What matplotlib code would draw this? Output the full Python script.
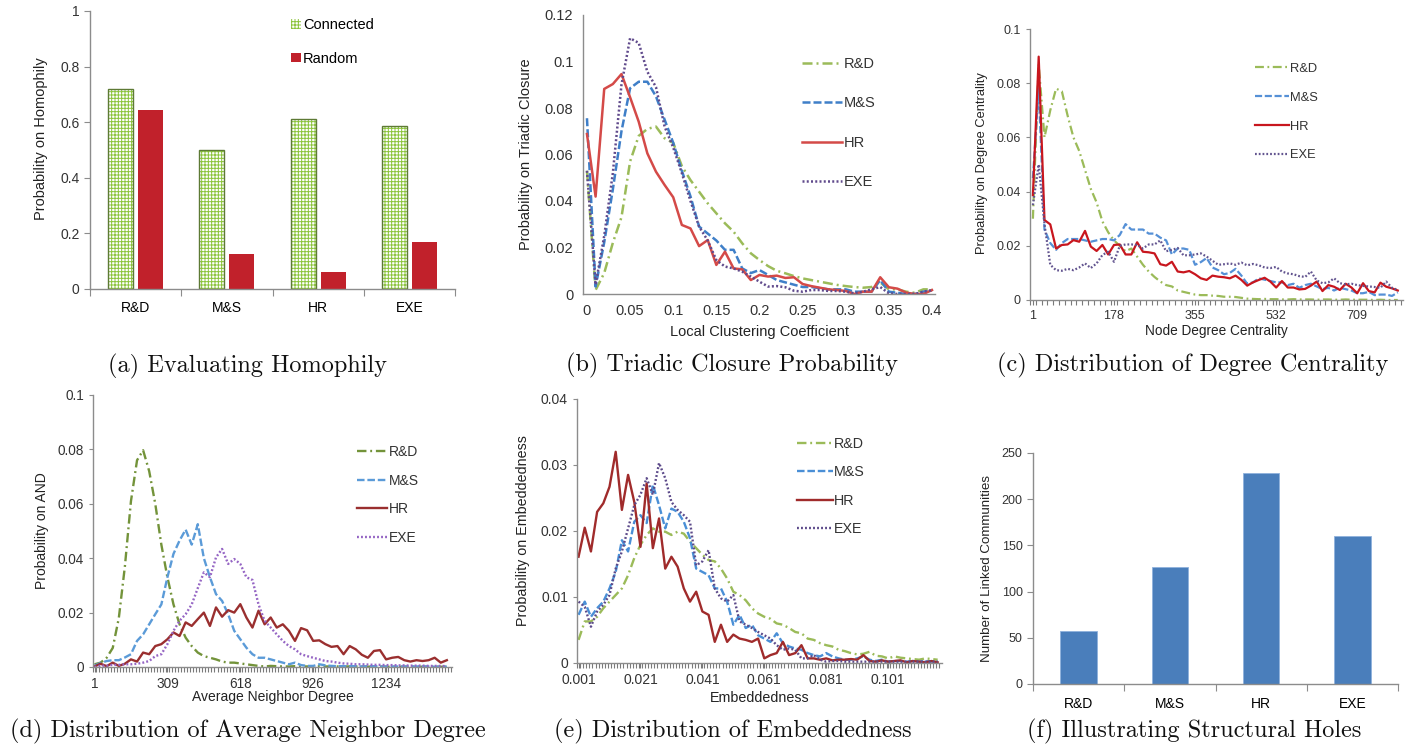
import matplotlib
matplotlib.use("Agg")
import matplotlib.pyplot as plt
import numpy as np

plt.rcParams["font.family"] = ["Liberation Sans", "DejaVu Sans"]
plt.rcParams["hatch.linewidth"] = 0.7

W, H = 1419, 744

# ---- data -------------------------------------------------------------
groups = ["R&D", "M&S", "HR", "EXE"]
homophily_connected = [0.72, 0.50, 0.61, 0.585]
homophily_random = [0.645, 0.125, 0.06, 0.17]
linked_communities = [57, 127, 228, 160]

# (b) triadic closure, local clustering coefficient 0 .. 0.4 step 0.01
lcc_tick_labels = ["0", "0.05", "0.1", "0.15", "0.2", "0.25", "0.3", "0.35", "0.4"]
tc_rd = [0.053, 0.0017, 0.009, 0.022, 0.033, 0.057, 0.068, 0.071, 0.072, 0.067,
         0.065, 0.055, 0.049, 0.044, 0.039, 0.0347, 0.0304, 0.0268, 0.0218, 0.0175,
         0.0146, 0.012, 0.010, 0.0089, 0.0077, 0.0067, 0.006, 0.0053, 0.0046, 0.0039,
         0.0034, 0.003, 0.0027, 0.003, 0.005, 0.002, 0.002, 0.001, 0.0005, 0.002, 0.002]
tc_ms = [0.0756, 0.0032, 0.0222, 0.045, 0.070, 0.0885, 0.0913, 0.0913, 0.085, 0.075,
         0.065, 0.053, 0.042, 0.029, 0.026, 0.023, 0.019, 0.019, 0.011, 0.009,
         0.0103, 0.0082, 0.006, 0.005, 0.004, 0.003, 0.003, 0.0025, 0.002, 0.002,
         0.002, 0.001, 0.001, 0.001, 0.006, 0.001, 0.0005, 0.0, 0.0, 0.001, 0.0015]
tc_hr = [0.0688, 0.0419, 0.0882, 0.0903, 0.0946, 0.0846, 0.0741, 0.0605, 0.0526, 0.0469,
         0.0416, 0.0297, 0.0282, 0.0206, 0.0232, 0.0125, 0.0182, 0.011, 0.0106, 0.006,
         0.0082, 0.0075, 0.0079, 0.0069, 0.0072, 0.0043, 0.0034, 0.0027, 0.002, 0.0017,
         0.0013, 0.0, 0.001, 0.001, 0.0072, 0.0029, 0.0023, 0.0006, 0.0, 0.0, 0.0017]
tc_exe = [0.053, 0.004, 0.025, 0.052, 0.090, 0.110, 0.108, 0.0956, 0.089, 0.072,
          0.063, 0.052, 0.040, 0.029, 0.023, 0.0146, 0.0118, 0.011, 0.0096, 0.0075,
          0.0053, 0.0032, 0.0034, 0.0029, 0.0014, 0.001, 0.0017, 0.0017, 0.0013, 0.0013,
          0.001, 0.0003, 0.001, 0.002, 0.003, 0.0003, 0.0, 0.0, 0.0, 0.001, 0.0017]

# (c) degree centrality, 64 bins
deg_tick_labels = ["1", "178", "355", "532", "709"]
deg_rd = [0.030, 0.087, 0.060, 0.070, 0.078, 0.077, 0.068, 0.060, 0.055, 0.048,
          0.041, 0.036, 0.029, 0.025, 0.022, 0.020, 0.018, 0.019, 0.016, 0.013,
          0.0105, 0.0085, 0.0068, 0.0055, 0.005, 0.0035, 0.003, 0.0025, 0.002, 0.0018,
          0.0018, 0.0016, 0.0015, 0.0012, 0.0012, 0.0011, 0.0008, 0.0005, 0.0004, 0.0003,
          0.0004, 0.0003, 0.0003, 0.0002, 0.0002, 0.0003, 0.0002, 0.0002, 0.0002, 0.0001,
          0.0002, 0.0002, 0.0001, 0.0001, 0.0002, 0.0001, 0.0001, 0.0001, 0.0001, 0.0,
          0.0001, 0.0, 0.0, 0.0]
deg_ms = [0.045, 0.078, 0.026, 0.021, 0.0185, 0.021, 0.0225, 0.0225, 0.0225, 0.022,
          0.0215, 0.022, 0.0225, 0.0225, 0.022, 0.024, 0.028, 0.026, 0.026, 0.026,
          0.0245, 0.0245, 0.023, 0.022, 0.0168, 0.019, 0.019, 0.0185, 0.013, 0.014,
          0.0155, 0.012, 0.011, 0.0095, 0.010, 0.0115, 0.009, 0.006, 0.0065, 0.008,
          0.0075, 0.007, 0.0065, 0.0065, 0.0055, 0.006, 0.0045, 0.0055, 0.006, 0.005,
          0.004, 0.0045, 0.0035, 0.0045, 0.004, 0.0035, 0.0025, 0.0025, 0.003, 0.0018,
          0.002, 0.002, 0.0015, 0.0028]
deg_hr = [0.0387, 0.0898, 0.0295, 0.0279, 0.019, 0.0203, 0.0205, 0.0221, 0.0215, 0.0255,
          0.0197, 0.0181, 0.0203, 0.0168, 0.0203, 0.0205, 0.0168, 0.0168, 0.0213, 0.0178,
          0.0176, 0.0172, 0.0132, 0.0127, 0.0141, 0.0105, 0.0102, 0.0107, 0.0095, 0.008,
          0.0074, 0.009, 0.0086, 0.0084, 0.008, 0.009, 0.0074, 0.0053, 0.0065, 0.0074,
          0.0082, 0.0068, 0.0046, 0.007, 0.0046, 0.0046, 0.0039, 0.0041, 0.0053, 0.0068,
          0.0033, 0.0055, 0.0049, 0.0037, 0.006, 0.0046, 0.0025, 0.0062, 0.0033, 0.0028,
          0.0064, 0.0049, 0.0043, 0.0035]
deg_exe = [0.035, 0.050, 0.028, 0.013, 0.0110, 0.0108, 0.0115, 0.0110, 0.0120, 0.0135,
           0.0118, 0.0135, 0.0166, 0.0178, 0.0141, 0.0200, 0.0205, 0.0205, 0.0203, 0.019,
           0.0205, 0.0205, 0.022, 0.018, 0.0185, 0.0192, 0.0165, 0.0165, 0.0168, 0.0172,
           0.016, 0.0145, 0.013, 0.0132, 0.0135, 0.013, 0.0138, 0.0128, 0.0133, 0.0128,
           0.0120, 0.0118, 0.0122, 0.0105, 0.0098, 0.0095, 0.0088, 0.0085, 0.0105, 0.0072,
           0.0062, 0.0065, 0.0080, 0.0062, 0.0058, 0.0060, 0.0055, 0.0052, 0.0050, 0.0048,
           0.0045, 0.0068, 0.0045, 0.0037]

# (d) average neighbor degree, every second bin
and_tick_labels = ["1", "309", "618", "926", "1234"]
and_rd = [0.001, 0.0016, 0.0034, 0.007, 0.018, 0.037, 0.061, 0.076, 0.0797, 0.072,
          0.060, 0.045, 0.033, 0.023, 0.0157, 0.0108, 0.0077, 0.0053, 0.004, 0.0034,
          0.0028, 0.002, 0.0016, 0.0016, 0.0013, 0.001, 0.0007, 0.0004, 0.0002, 0.0004,
          0.0003, 0.0002, 0.0002, 0.0003, 0.0002, 0.0002, 0.0002, 0.0003, 0.0002, 0.0002,
          0.0002, 0.0002, 0.0002, 0.0002, 0.0002, 0.0001, 0.0002, 0.0002, 0.0001, 0.0001,
          0.0001, 0.0001, 0.0001, 0.0001, 0.0001, 0.0001, 0.0001, 0.0001, 0.0001]
and_ms = [0.0005, 0.0015, 0.0022, 0.0025, 0.0025, 0.0035, 0.0047, 0.0096, 0.012, 0.0157,
          0.0194, 0.023, 0.033, 0.0416, 0.0465, 0.0505, 0.045, 0.0525, 0.040, 0.033,
          0.0268, 0.0243, 0.0194, 0.0133, 0.0102, 0.0071, 0.0047, 0.0034, 0.0034, 0.0028,
          0.0022, 0.0016, 0.001, 0.0016, 0.0007, 0.0004, 0.0004, 0.001, 0.0006, 0.0004,
          0.0003, 0.0003, 0.0003, 0.0003, 0.0002, 0.0003, 0.0003, 0.0002, 0.0002, 0.0002,
          0.0002, 0.0002, 0.0002, 0.0002, 0.0002, 0.0002, 0.0001, 0.0001, 0.0001]
and_hr = [0.0002, 0.0012, 0.0003, 0.0016, 0.0004, 0.0012, 0.0028, 0.002, 0.0053, 0.0047,
          0.0077, 0.0084, 0.0102, 0.0127, 0.0114, 0.0164, 0.0151, 0.0176, 0.020, 0.0151,
          0.0219, 0.0185, 0.0209, 0.020, 0.0231, 0.0182, 0.0145, 0.0207, 0.0157, 0.0182,
          0.0145, 0.0157, 0.0133, 0.0096, 0.0143, 0.0135, 0.0096, 0.0098, 0.0084, 0.0074,
          0.0077, 0.0047, 0.0077, 0.0065, 0.0045, 0.0034, 0.0059, 0.0062, 0.0028, 0.0034,
          0.0037, 0.0025, 0.002, 0.0025, 0.0022, 0.0025, 0.0034, 0.0016, 0.0025]
and_exe = [0.0, 0.0005, 0.0005, 0.0008, 0.0008, 0.001, 0.001, 0.0012, 0.0016, 0.0022,
           0.004, 0.0047, 0.0084, 0.0133, 0.017, 0.0194, 0.023, 0.029, 0.0348, 0.033,
           0.0403, 0.0434, 0.0379, 0.0397, 0.0379, 0.033, 0.032, 0.023, 0.017, 0.0145,
           0.012, 0.0096, 0.0077, 0.0065, 0.0047, 0.004, 0.0034, 0.0028, 0.0022, 0.002,
           0.0016, 0.0013, 0.0012, 0.001, 0.001, 0.0009, 0.0008, 0.0008, 0.0007, 0.0007,
           0.0006, 0.0006, 0.0005, 0.0005, 0.0005, 0.0004, 0.0004, 0.0004, 0.0003]

# (e) embeddedness, every second bin
emb_tick_labels = ["0.001", "0.021", "0.041", "0.061", "0.081", "0.101"]
emb_rd = [0.0035, 0.0063, 0.0063, 0.007, 0.0083, 0.0093, 0.0103, 0.0113, 0.0133, 0.0159,
          0.0179, 0.0194, 0.0204, 0.0199, 0.0199, 0.0194, 0.0199, 0.0196, 0.0184, 0.0174,
          0.0164, 0.0156, 0.0154, 0.0143, 0.0128, 0.0108, 0.0103, 0.0095, 0.0083, 0.0075,
          0.007, 0.0067, 0.006, 0.0058, 0.0053, 0.0047, 0.0045, 0.0037, 0.0035, 0.003,
          0.0027, 0.0025, 0.002, 0.0018, 0.0015, 0.0013, 0.0014, 0.0017, 0.0011, 0.001,
          0.0007, 0.001, 0.0008, 0.0007, 0.0006, 0.0005, 0.0007, 0.0006, 0.0005]
emb_ms = [0.0073, 0.0093, 0.007, 0.0083, 0.0093, 0.0113, 0.0138, 0.0186, 0.0169, 0.0214,
          0.0224, 0.0212, 0.027, 0.0239, 0.0204, 0.0234, 0.0229, 0.0214, 0.0189, 0.0143,
          0.0138, 0.0133, 0.0113, 0.0113, 0.0093, 0.0058, 0.0073, 0.0053, 0.0058, 0.0042,
          0.0037, 0.0032, 0.0045, 0.003, 0.0025, 0.0022, 0.002, 0.0015, 0.0012, 0.001,
          0.0015, 0.001, 0.0007, 0.0005, 0.0005, 0.0007, 0.001, 0.0005, 0.0003, 0.0005,
          0.0002, 0.0003, 0.0003, 0.0002, 0.0003, 0.0002, 0.0003, 0.0002, 0.0002]
emb_hr = [0.0161, 0.0205, 0.0169, 0.0229, 0.0242, 0.0267, 0.0320, 0.0232, 0.0285, 0.0244,
          0.0176, 0.0272, 0.0174, 0.0219, 0.0143, 0.0161, 0.0146, 0.0113, 0.0093, 0.0108,
          0.0078, 0.0073, 0.0032, 0.0058, 0.0032, 0.0043, 0.0037, 0.0035, 0.0032, 0.0037,
          0.0007, 0.0012, 0.0015, 0.0032, 0.0012, 0.0015, 0.0027, 0.0007, 0.0007, 0.0005,
          0.0007, 0.0004, 0.0005, 0.0005, 0.0006, 0.0005, 0.0012, 0.0003, 0.0002, 0.0004,
          0.0002, 0.0003, 0.0004, 0.0001, 0.0003, 0.0002, 0.0001, 0.0003, 0.0001]
emb_exe = [0.0093, 0.0085, 0.0055, 0.0078, 0.0088, 0.0103, 0.0143, 0.0169, 0.0204, 0.0239,
           0.0255, 0.028, 0.0255, 0.0303, 0.028, 0.0244, 0.0232, 0.0224, 0.0214, 0.0148,
           0.0154, 0.0171, 0.0113, 0.0098, 0.0093, 0.0103, 0.0063, 0.0058, 0.0053, 0.0047,
           0.0042, 0.0037, 0.0027, 0.002, 0.0022, 0.002, 0.0007, 0.0007, 0.0012, 0.0005,
           0.0002, 0.0003, 0.0003, 0.0002, 0.0002, 0.0002, 0.0002, 0.0002, 0.0002, 0.0002,
           0.0002, 0.0002, 0.0002, 0.0002, 0.0002, 0.0002, 0.0002, 0.0002, 0.0002]

captions = ["(a) Evaluating Homophily", "(b) Triadic Closure Probability",
            "(c) Distribution of Degree Centrality",
            "(d) Distribution of Average Neighbor Degree",
            "(e) Distribution of Embeddedness", "(f) Illustrating Structural Holes"]

# ---- helpers ----------------------------------------------------------
AXC = "#8c8c8c"
TXT = "#333333"

# dash patterns, Excel-like
LS = {"R&D": (0, (4, 1.6, 0.8, 1.6)), "M&S": (0, (3.2, 1.2)),
      "HR": "-", "EXE": (0, (0.8, 0.9))}


def px_axes(fig, x0, y0, x1, y1):
    return fig.add_axes([x0 / W, 1 - y1 / H, (x1 - x0) / W, (y1 - y0) / H])


def base(ax, fs):
    for s in ["top", "right"]:
        ax.spines[s].set_visible(False)
    for s in ["left", "bottom"]:
        ax.spines[s].set_color(AXC)
        ax.spines[s].set_linewidth(1.0)
    ax.tick_params(colors=AXC, labelcolor=TXT, labelsize=fs, width=0.8)
    ax.set_facecolor("none")


def line_panel(ax, series, colors, lw, xlim, ylim, yticks, ylabels,
               xticks, xlabels, fs, minor_step=None):
    for (name, vals), c in zip(series, colors):
        ax.plot(range(len(vals)), vals, color=c, lw=lw, ls=LS[name],
                label=name, dash_capstyle="butt", solid_joinstyle="round")
    ax.set_xlim(*xlim)
    ax.set_ylim(*ylim)
    ax.set_yticks(yticks)
    ax.set_yticklabels(ylabels)
    ax.set_xticks(xticks)
    ax.set_xticklabels(xlabels)
    base(ax, fs)
    if minor_step:
        ax.set_xticks(np.arange(xlim[0], xlim[1] + 1e-9, minor_step), minor=True)
        ax.tick_params(axis="x", which="minor", length=3.5, color="#7a7a7a", width=0.8)
        ax.tick_params(axis="x", which="major", length=3.5, color="#7a7a7a")
    ax.tick_params(axis="y", length=3)


def legend(ax, x, y, fs, hl, spacing):
    ax.legend(loc="upper left", bbox_to_anchor=(x, y), frameon=False, fontsize=fs,
              borderpad=0, borderaxespad=0, handlelength=hl, handletextpad=0.1,
              labelspacing=spacing, labelcolor=TXT)


fig = plt.figure(figsize=(W / 100, H / 100), dpi=100)

# ---- (a) homophily bars ---------------------------------------------------
ax = px_axes(fig, 90, 11, 455, 289)
pos = np.arange(len(groups))
ax.bar(pos - 0.165, homophily_connected, 0.275, color="white", edgecolor="#8cc43c",
       hatch="+++++", lw=0, label="Connected")
ax.bar(pos - 0.165, homophily_connected, 0.275, fill=False, edgecolor="#5d7a35", lw=1.0)
ax.bar(pos + 0.165, homophily_random, 0.275, color="#c1212b", label="Random")
ax.set_xlim(-0.5, 3.5)
ax.set_ylim(0, 1)
ax.set_yticks([0, 0.2, 0.4, 0.6, 0.8, 1.0])
ax.set_yticklabels(["0", "0.2", "0.4", "0.6", "0.8", "1"])
ax.set_xticks(np.arange(-0.5, 4, 1))
ax.set_xticklabels([])
ax.set_xticks(pos, minor=True)
ax.set_xticklabels(groups, minor=True)
base(ax, 10)
ax.tick_params(axis="x", which="minor", length=0, pad=9)
ax.tick_params(axis="x", which="major", length=5)
ax.tick_params(axis="y", length=4)
ax.set_ylabel("Probability on Homophily", fontsize=10.5, color="#222222")
ax.yaxis.set_label_coords(-0.115, 0.54)
ax.legend(loc="upper left", bbox_to_anchor=(0.551, 0.975), frameon=False, fontsize=10.5,
          borderpad=0, borderaxespad=0, handlelength=0.65, handleheight=0.65,
          handletextpad=0.15, labelspacing=1.35)

# ---- (b) triadic closure ---------------------------------------------------
ax = px_axes(fig, 583, 15, 935, 294)
line_panel(ax, [("R&D", tc_rd), ("M&S", tc_ms), ("HR", tc_hr), ("EXE", tc_exe)],
           ["#9bbb59", "#3f7fc8", "#d44a48", "#604a8c"], 1.8,
           (-0.46, 40.35), (0, 0.12),
           [0, 0.02, 0.04, 0.06, 0.08, 0.1, 0.12],
           ["0", "0.02", "0.04", "0.06", "0.08", "0.1", "0.12"],
           list(range(0, 41, 5)), lcc_tick_labels, 10.5)
ax.tick_params(axis="both", length=0, pad=7)
ax.set_ylabel("Probability on Triadic Closure", fontsize=10.5, color="#222222")
ax.yaxis.set_label_coords(-0.142, 0.5)
ax.set_xlabel("Local Clustering Coefficient", fontsize=10.5, color="#222222")
ax.xaxis.set_label_coords(0.5, -0.136)
ax.xaxis.label.set_va("center")
legend(ax, 0.622, 0.85, 10.5, 2.75, 1.75)

# ---- (c) degree centrality ---------------------------------------------------
ax = px_axes(fig, 1030, 29, 1403, 300)
line_panel(ax, [("R&D", deg_rd), ("M&S", deg_ms), ("HR", deg_hr), ("EXE", deg_exe)],
           ["#9bbb59", "#5590d6", "#c8161e", "#62548f"], 1.6,
           (-0.5, 63.9), (0, 0.1),
           [0, 0.02, 0.04, 0.06, 0.08, 0.1],
           ["0", "0.02", "0.04", "0.06", "0.08", "0.1"],
           [0, 14, 28, 42, 56], deg_tick_labels, 9, minor_step=1)
ax.set_ylabel("Probability on Degree Centrality", fontsize=9.3, color="#222222")
ax.yaxis.set_label_coords(-0.113, 0.506)
ax.set_xlabel("Node Degree Centrality", fontsize=9.8, color="#222222")
ax.xaxis.set_label_coords(0.5, -0.114)
ax.xaxis.label.set_va("center")
legend(ax, 0.603, 0.875, 9.3, 2.6, 1.3)

# ---- (d) average neighbor degree ---------------------------------------------------
ax = px_axes(fig, 93, 395, 452, 667)
line_panel(ax, [("R&D", and_rd), ("M&S", and_ms), ("HR", and_hr), ("EXE", and_exe)],
           ["#73933a", "#5b9bd8", "#9a2f2f", "#9565c4"], 1.7,
           (-0.25, 58.85), (0, 0.1),
           [0, 0.02, 0.04, 0.06, 0.08, 0.1],
           ["0", "0.02", "0.04", "0.06", "0.08", "0.1"],
           [0, 12, 24, 36, 48], and_tick_labels, 9.8, minor_step=0.5)
ax.set_ylabel("Probability on AND", fontsize=10, color="#222222")
ax.yaxis.set_label_coords(-0.122, 0.5)
ax.set_xlabel("Average Neighbor Degree", fontsize=10, color="#222222")
ax.xaxis.set_label_coords(0.5, -0.11)
ax.xaxis.label.set_va("center")
legend(ax, 0.735, 0.816, 10, 2.2, 1.05)

# ---- (e) embeddedness ---------------------------------------------------
ax = px_axes(fig, 577, 399, 942, 663)
line_panel(ax, [("R&D", emb_rd), ("M&S", emb_ms), ("HR", emb_hr), ("EXE", emb_exe)],
           ["#9bbb59", "#4a8fd6", "#a02b2b", "#5c4a8a"], 1.7,
           (-0.25, 58.7), (0, 0.04),
           [0, 0.01, 0.02, 0.03, 0.04],
           ["0", "0.01", "0.02", "0.03", "0.04"],
           [0, 10, 20, 30, 40, 50], emb_tick_labels, 10, minor_step=0.5)
ax.set_ylabel("Probability on Embeddedness", fontsize=10.3, color="#222222")
ax.yaxis.set_label_coords(-0.129, 0.5)
ax.set_xlabel("Embeddedness", fontsize=10.3, color="#222222")
ax.xaxis.set_label_coords(0.5, -0.133)
ax.xaxis.label.set_va("center")
legend(ax, 0.603, 0.856, 10.3, 2.5, 1.0)

# ---- (f) structural holes ---------------------------------------------------
ax = px_axes(fig, 1033, 453, 1398, 684)
ax.bar(pos, linked_communities, 0.4, color="#4a7ebb", edgecolor="#8fb1dc", lw=0.6)
ax.set_xlim(-0.5, 3.5)
ax.set_ylim(0, 250)
ax.set_yticks([0, 50, 100, 150, 200, 250])
ax.set_xticks(np.arange(-0.5, 4, 1))
ax.set_xticklabels([])
ax.set_xticks(pos, minor=True)
ax.set_xticklabels(groups, minor=True)
base(ax, 9)
ax.tick_params(axis="x", which="minor", length=0, pad=9)
ax.tick_params(axis="x", which="major", length=5)
ax.tick_params(axis="y", length=4)
ax.set_ylabel("Number of Linked Communities", fontsize=9.6, color="#222222")
ax.yaxis.set_label_coords(-0.11, 0.5)

# ---- captions ---------------------------------------------------
cap_pos = [(247, 366), (732, 365), (1193, 365), (248, 731), (733, 731), (1194, 731)]
for text, (cx, cy) in zip(captions, cap_pos):
    fig.text(cx / W, 1 - cy / H, text, ha="center", va="center",
             fontfamily="cmr10", fontsize=17.5, color="#111111")

fig.savefig("out.png", dpi=100, facecolor="white")
